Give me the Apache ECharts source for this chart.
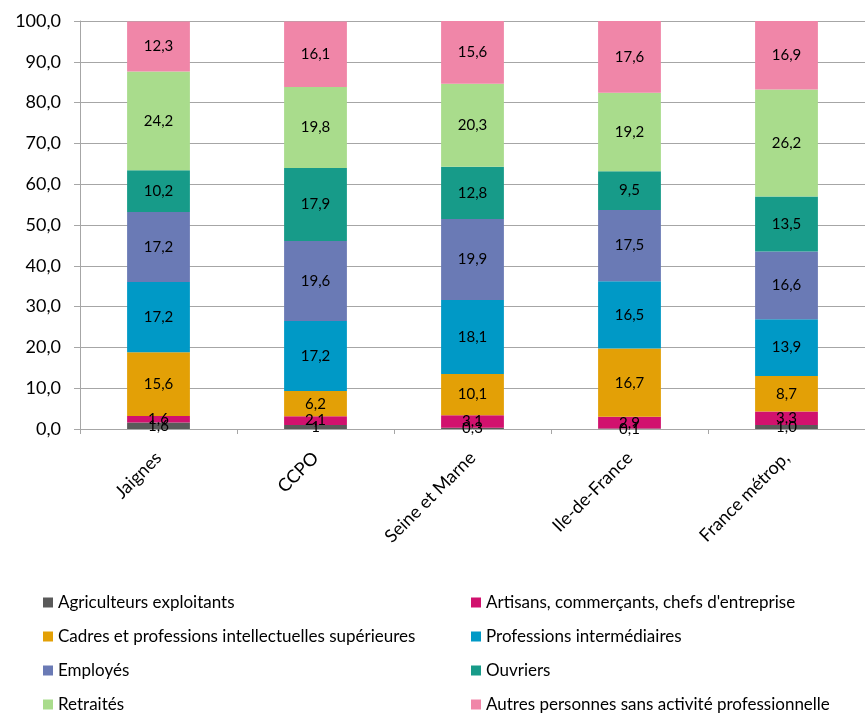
<!DOCTYPE html>
<html>
<head>
<meta charset="utf-8">
<script src="https://cdn.jsdelivr.net/npm/echarts@6/dist/echarts.min.js"></script>
<style>html,body{margin:0;padding:0;background:#fff;}#c{width:865px;height:713px;}</style>
</head>
<body>
<div id="c"></div>
<script>
var categories = ['Jaignes', 'CCPO', 'Seine et Marne', 'Ile-de-France', 'France métrop,'];
var seriesNames = [
  'Agriculteurs exploitants',
  'Artisans, commerçants, chefs d\'entreprise',
  'Cadres et professions intellectuelles supérieures',
  'Professions intermédiaires',
  'Employés',
  'Ouvriers',
  'Retraités',
  'Autres personnes sans activité professionnelle'
];
var agriculteurs = [1.6, 1, 0.3, 0.1, 1.0];
var agriculteursLabels = ['1,6', '1', '0,3', '0,1', '1,0'];
var artisans = [1.6, 2.1, 3.1, 2.9, 3.3];
var cadres = [15.6, 6.2, 10.1, 16.7, 8.7];
var profInter = [17.2, 17.2, 18.1, 16.5, 13.9];
var employes = [17.2, 19.6, 19.9, 17.5, 16.6];
var ouvriers = [10.2, 17.9, 12.8, 9.5, 13.5];
var retraites = [24.2, 19.8, 20.3, 19.2, 26.2];
var autres = [12.3, 16.1, 15.6, 17.6, 16.9];
var yTicks = [0, 10, 20, 30, 40, 50, 60, 70, 80, 90, 100];

var allValues = [agriculteurs, artisans, cadres, profInter, employes, ouvriers, retraites, autres];
var colors = ['#5a5a5a', '#d1116e', '#e3a006', '#0099c6', '#6a7ab5', '#179b89', '#a9dc8c', '#f086a8'];
var FONT = 'Lato';

function fmt(v) { return v.toFixed(1).replace('.', ','); }

var series = allValues.map(function (vals, i) {
  return {
    name: seriesNames[i],
    type: 'bar',
    stack: 'total',
    barWidth: '40%',
    data: vals,
    itemStyle: { color: colors[i] },
    label: {
      show: true,
      position: 'inside',
      color: '#000',
      fontFamily: FONT,
      fontSize: 15,
      formatter: function (p) {
        if (i === 0) return agriculteursLabels[p.dataIndex];
        return fmt(p.value);
      }
    },
    emphasis: { disabled: true }
  };
});

var legendText = { fontFamily: FONT, fontSize: 17, color: '#000' };
var legendCols = [38, 466];
var legendRows = [589, 623, 657, 691];
var legendOrder = [0, 1, 2, 3, 4, 5, 6, 7];
var legends = legendOrder.map(function (si, k) {
  return {
    orient: 'horizontal',
    left: legendCols[k % 2],
    top: legendRows[Math.floor(k / 2)],
    itemWidth: 10, itemHeight: 10, icon: 'rect',
    textStyle: legendText, selectedMode: false,
    data: [seriesNames[si]]
  };
});

var chart = echarts.init(document.getElementById('c'), null, { renderer: 'canvas' });
chart.setOption({
  animation: false,
  textStyle: { fontFamily: FONT },
  grid: { left: 80, top: 21, width: 790, height: 408, containLabel: false },
  xAxis: {
    type: 'category',
    data: categories,
    axisLine: { show: false },
    axisTick: { show: true, length: 5, lineStyle: { color: '#a6a6a6' } },
    axisLabel: { rotate: 45, fontFamily: FONT, fontSize: 18, color: '#000', margin: 26, interval: 0 }
  },
  yAxis: {
    type: 'value',
    min: yTicks[0],
    max: yTicks[yTicks.length - 1],
    interval: 10,
    axisLine: { show: true, lineStyle: { color: '#a6a6a6' } },
    axisTick: { show: true, length: 6, lineStyle: { color: '#a6a6a6' } },
    splitLine: { show: true, lineStyle: { color: '#a6a6a6' } },
    axisLabel: { fontFamily: FONT, fontSize: 18, color: '#000', margin: 19, formatter: function (v) { return fmt(v); } }
  },
  legend: legends,
  series: series
});
</script>
</body>
</html>
